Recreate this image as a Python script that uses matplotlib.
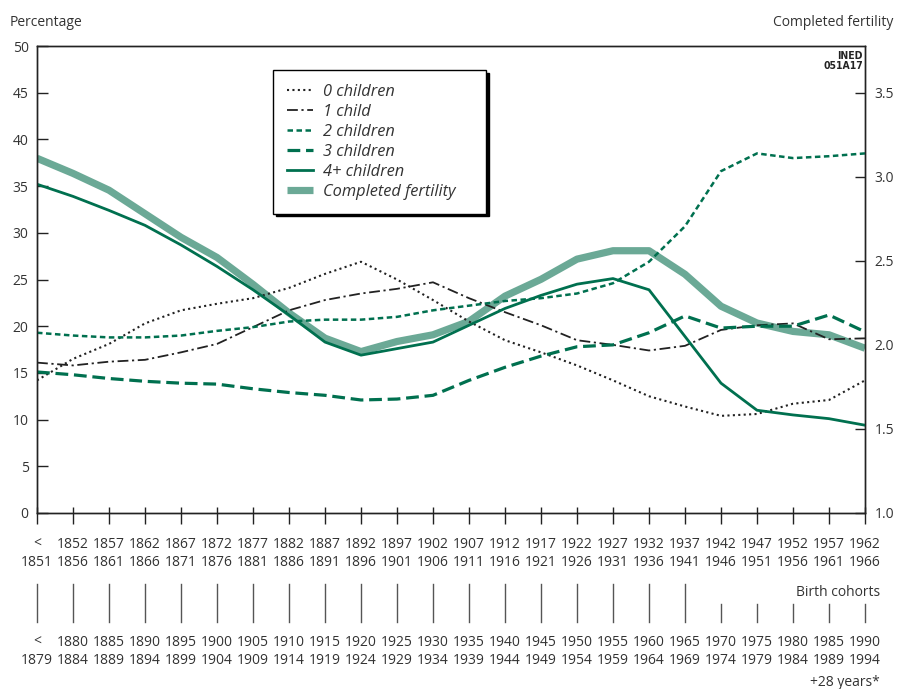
import matplotlib.pyplot as plt
from matplotlib.transforms import blended_transform_factory

plt.rcParams['font.family'] = ['Open Sans', 'DejaVu Sans']

# Datos (porcentaje de mujeres por numero de hijos)
cohorts_a_start = ['<', '1852', '1857', '1862', '1867', '1872', '1877', '1882',
                   '1887', '1892', '1897', '1902', '1907', '1912', '1917', '1922',
                   '1927', '1932', '1937', '1942', '1947', '1952', '1957', '1962']
cohorts_a_end = ['1851', '1856', '1861', '1866', '1871', '1876', '1881', '1886',
                 '1891', '1896', '1901', '1906', '1911', '1916', '1921', '1926',
                 '1931', '1936', '1941', '1946', '1951', '1956', '1961', '1966']
cohorts_b_start = ['<', '1880', '1885', '1890', '1895', '1900', '1905', '1910',
                   '1915', '1920', '1925', '1930', '1935', '1940', '1945', '1950',
                   '1955', '1960', '1965', '1970', '1975', '1980', '1985', '1990']
cohorts_b_end = ['1879', '1884', '1889', '1894', '1899', '1904', '1909', '1914',
                 '1919', '1924', '1929', '1934', '1939', '1944', '1949', '1954',
                 '1959', '1964', '1969', '1974', '1979', '1984', '1989', '1994']

zero_children = [14.2, 16.5, 18.1, 20.3, 21.7, 22.4, 23.0, 24.1, 25.6, 26.9, 25.0, 22.8,
                 20.5, 18.5, 17.2, 15.8, 14.2, 12.5, 11.4, 10.4, 10.6, 11.7, 12.1, 14.2]
one_child = [16.1, 15.8, 16.2, 16.4, 17.2, 18.1, 19.9, 21.7, 22.8, 23.5, 24.0, 24.7,
             23.0, 21.5, 20.1, 18.5, 18.0, 17.4, 17.9, 19.6, 20.1, 20.3, 18.6, 18.7]
two_children = [19.3, 19.0, 18.8, 18.8, 19.0, 19.5, 19.9, 20.5, 20.7, 20.7, 21.0, 21.7,
                22.2, 22.7, 23.0, 23.5, 24.6, 26.9, 30.7, 36.6, 38.5, 38.0, 38.2, 38.5]
three_children = [15.1, 14.8, 14.4, 14.1, 13.9, 13.8, 13.3, 12.9, 12.6, 12.1, 12.2, 12.6,
                  14.2, 15.6, 16.8, 17.8, 18.0, 19.3, 21.1, 19.8, 20.0, 20.0, 21.2, 19.4]
four_plus = [35.2, 33.9, 32.4, 30.8, 28.7, 26.4, 23.9, 21.2, 18.3, 16.9, 17.6, 18.3,
             20.1, 21.9, 23.3, 24.5, 25.1, 23.9, 18.9, 13.9, 11.0, 10.5, 10.1, 9.4]
completed_fertility = [3.11, 3.02, 2.92, 2.78, 2.64, 2.52, 2.36, 2.19, 2.04, 1.96, 2.02, 2.06,
                       2.14, 2.29, 2.39, 2.51, 2.56, 2.56, 2.42, 2.23, 2.13, 2.08, 2.06, 1.98]
legend_labels = ['0 children', '1 child', '2 children', '3 children', '4+ children',
                 'Completed fertility']

dark_green = '#00704f'
light_green = '#6ba996'
text_col = '#333333'
H = 689.0

x = list(range(len(cohorts_a_start)))

fig = plt.figure(figsize=(8.98, 6.89), dpi=100)
ax = fig.add_axes([37 / 898, 1 - 513 / H, 828 / 898, 467 / H])
ax2 = ax.twinx()
ax.set_zorder(ax2.get_zorder() + 1)
ax.patch.set_visible(False)

# Fecundidad completa (eje derecho), debajo del resto
l_cf, = ax2.plot(x, completed_fertility, color=light_green, lw=5.2, solid_capstyle='butt')

l0, = ax.plot(x, zero_children, color='#222222', lw=1.5, ls=(0, (1, 1.6)))
l1, = ax.plot(x, one_child, color='#222222', lw=1.3, ls=(0, (6, 2, 1.2, 2)))
l2, = ax.plot(x, two_children, color=dark_green, lw=1.8, ls=(0, (2.2, 1.4)))
l3, = ax.plot(x, three_children, color=dark_green, lw=2.3, ls=(0, (4, 1.8)))
l4, = ax.plot(x, four_plus, color=dark_green, lw=2.0)

ax.set_xlim(0, len(x) - 1)
ax.set_ylim(0, 50)
ax2.set_ylim(1.0, 1.0 + 50 / 18)
ax.set_yticks(range(0, 51, 5))
ax2.set_yticks([1.0, 1.5, 2.0, 2.5, 3.0, 3.5])
ax2.set_yticklabels(['1.0', '1.5', '2.0', '2.5', '3.0', '3.5'])

for a in (ax, ax2):
    for s in a.spines.values():
        s.set_color('#222222')
        s.set_linewidth(1.0)

ax.tick_params(axis='y', direction='in', length=8, width=1, colors='#222222',
               labelcolor=text_col, labelsize=10, pad=6)
ax2.tick_params(axis='y', direction='in', length=7, width=1, colors='#222222',
                labelcolor=text_col, labelsize=10, pad=7)

# marcas del eje x: hacia fuera (mayores) y hacia dentro (menores)
ax.set_xticks(x)
ax.set_xticks(x, minor=True)
ax.xaxis.remove_overlapping_locs = False
ax.set_xticklabels([])
ax.tick_params(axis='x', which='major', direction='out', length=8, width=1, colors='#222222')
ax.tick_params(axis='x', which='minor', direction='in', length=4.5, width=1, colors='#222222')

# etiquetas de cohortes en dos filas
tr = blended_transform_factory(ax.transData, fig.transFigure)
for i in x:
    ax.text(i, 1 - 544 / H, cohorts_a_start[i], transform=tr, ha='center', va='center',
            fontsize=10, color=text_col)
    ax.text(i, 1 - 563 / H, cohorts_a_end[i], transform=tr, ha='center', va='center',
            fontsize=10, color=text_col)
    ax.text(i, 1 - 642 / H, cohorts_b_start[i], transform=tr, ha='center', va='center',
            fontsize=10, color=text_col)
    ax.text(i, 1 - 661 / H, cohorts_b_end[i], transform=tr, ha='center', va='center',
            fontsize=10, color=text_col)
    top = 584 if i < 19 else 604
    ax.plot([i, i], [1 - top / H, 1 - 622 / H], transform=tr, color='#555555',
            lw=1.0, clip_on=False)

fig.text(880 / 898, 1 - 592 / H, 'Birth cohorts', ha='right', va='center',
         fontsize=10, color=text_col)
fig.text(880 / 898, 1 - 683 / H, '+28 years*', ha='right', va='center',
         fontsize=10, color=text_col)
fig.text(10 / 898, 1 - 22 / H, 'Percentage', ha='left', va='center',
         fontsize=10, color=text_col)
fig.text(893 / 898, 1 - 22 / H, 'Completed fertility', ha='right', va='center',
         fontsize=10, color=text_col)
fig.text(863 / 898, 1 - 51 / H, 'INED\n051A17', ha='right', va='top',
         fontsize=7.5, fontweight='bold', fontstretch='condensed', color='#222222',
         linespacing=1.0, family=['DejaVu Sans'])

# la etiqueta mas larga lleva espacios al final para ensanchar el recuadro
labels = legend_labels[:-1] + [legend_labels[-1] + '    ']
leg = ax.legend([l0, l1, l2, l3, l4, l_cf], labels, loc='upper left',
                bbox_to_anchor=(236 / 828, (513 - 70) / 467), borderaxespad=0,
                fancybox=False, shadow={'color': 'black', 'alpha': 1.0},
                edgecolor='black', framealpha=1, handlelength=1.6,
                handletextpad=0.6, borderpad=0.85, labelspacing=0.24,
                prop={'style': 'italic', 'size': 11.8})
leg.get_frame().set_linewidth(1.0)
for t in leg.get_texts():
    t.set_color(text_col)

fig.savefig('out.png', dpi=100)
